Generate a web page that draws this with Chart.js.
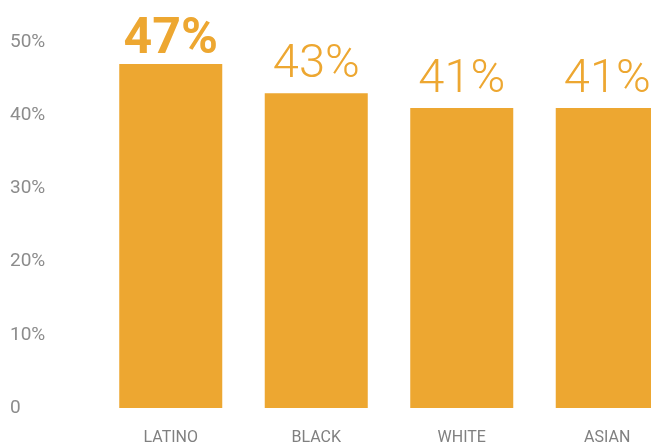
<!DOCTYPE html>
<html>
<head>
<meta charset="utf-8">
<script src="https://cdn.jsdelivr.net/npm/chart.js@4"></script>
<style>
  html, body { margin: 0; padding: 0; background: #fff; overflow: hidden; }
  #wrap { width: 690px; height: 446px; }
</style>
</head>
<body>
<div id="wrap"><canvas id="chart" width="690" height="446"></canvas></div>
<script>
  const categories = ['LATINO', 'BLACK', 'WHITE', 'ASIAN'];
  const values = [47, 43, 41, 41];
  const yTicks = [0, 10, 20, 30, 40, 50];

  const orange = '#EDA731';
  const maxValue = Math.max(...values);

  // value labels above each bar, biggest one in bold
  const valueLabels = {
    id: 'valueLabels',
    afterDatasetsDraw(chart) {
      const ctx = chart.ctx;
      const meta = chart.getDatasetMeta(0);
      ctx.save();
      ctx.fillStyle = orange;
      ctx.textAlign = 'center';
      ctx.textBaseline = 'alphabetic';
      meta.data.forEach((bar, i) => {
        const v = values[i];
        if (v === maxValue) {
          ctx.font = 'bold 50px Roboto, "Liberation Sans", sans-serif';
          ctx.fillText(v + '%', bar.x, bar.y - 11);
        } else {
          ctx.font = '300 47px Roboto, "Liberation Sans", sans-serif';
          ctx.fillText(v + '%', bar.x, bar.y - 16);
        }
      });
      ctx.restore();
    }
  };

  const ctx = document.getElementById('chart').getContext('2d');
  new Chart(ctx, {
    type: 'bar',
    data: {
      labels: categories,
      datasets: [{
        data: values,
        backgroundColor: orange,
        borderWidth: 0,
        barPercentage: 0.708,
        categoryPercentage: 1.0
      }]
    },
    options: {
      responsive: false,
      animation: false,
      layout: {
        padding: { left: 10, right: 10, top: 42, bottom: 0 }
      },
      plugins: {
        legend: { display: false },
        tooltip: { enabled: false }
      },
      scales: {
        x: {
          grid: { display: false, drawTicks: false },
          border: { display: false },
          ticks: {
            color: '#808080',
            font: { family: 'Roboto, "Liberation Sans", sans-serif', size: 16 },
            padding: 20,
            maxRotation: 0
          },
          afterFit(scale) { scale.height = 38; }
        },
        y: {
          min: 0,
          max: 50,
          grid: { display: false, drawTicks: false },
          border: { display: false },
          afterBuildTicks(scale) { scale.ticks = yTicks.map(v => ({ value: v })); },
          ticks: {
            color: '#8c8c8c',
            crossAlign: 'far',
            font: { family: 'Roboto, "Liberation Sans", sans-serif', size: 19 },
            callback: v => v === 0 ? '0' : v + '%'
          },
          afterFit(scale) { scale.width = 88; }
        }
      }
    },
    plugins: [valueLabels]
  });
</script>
</body>
</html>
